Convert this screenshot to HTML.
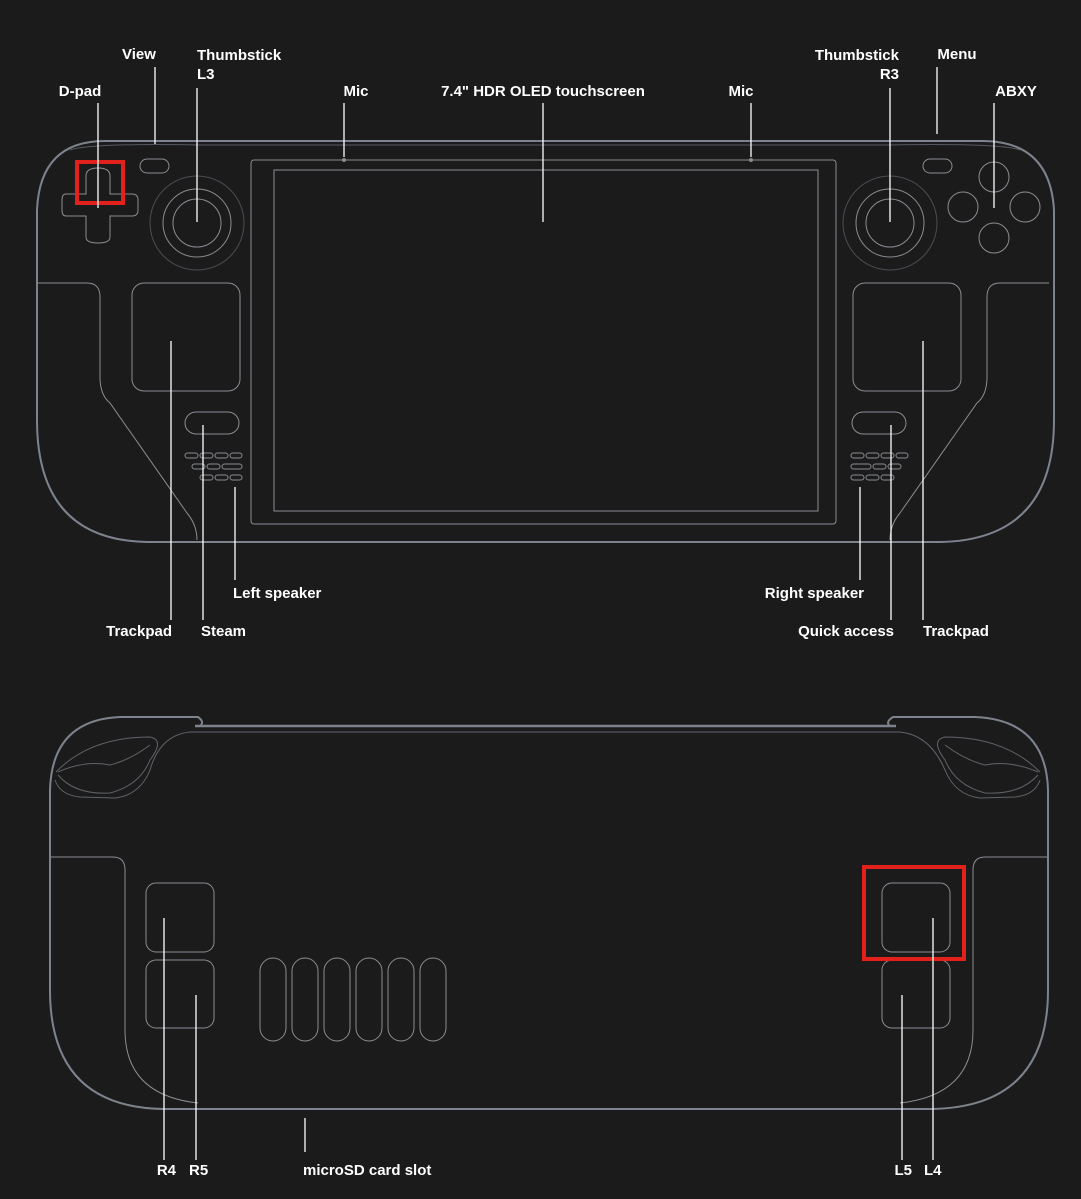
<!DOCTYPE html>
<html><head><meta charset="utf-8"><style>
html,body{margin:0;padding:0;background:#1b1b1c;}
svg{display:block}
text{font-family:"Liberation Sans",sans-serif;font-weight:bold;font-size:15px;fill:#fff}
</style></head><body>
<svg width="1081" height="1199" viewBox="0 0 1081 1199" xmlns="http://www.w3.org/2000/svg">
<rect width="1081" height="1199" fill="#1b1b1c"/>
<!-- TOP DEVICE -->
<g fill="none">
<path d="M105,141 L982,141 Q1050,141 1054,210 L1054,420 Q1054,540 940,542 L147,542 Q37,540 37,420 L37,210 Q40,141 105,141 Z" stroke="#7d838c" stroke-width="2"/>
<path d="M70,150 Q90,143 200,145 L890,145 Q1000,143 1020,150" stroke="#555a60" stroke-width="1"/>
<g stroke="#8a8d92" stroke-width="1">
<rect x="251" y="160" width="585" height="364" rx="3"/>
<rect x="274" y="170" width="544" height="341"/>
<path d="M38,283 L87,283 Q100,283 100,297 L100,377 Q100,395 110,403 L187,513 Q197,525 197,540"/>
<path d="M1049,283 L1000,283 Q987,283 987,297 L987,377 Q987,395 977,403 L900,513 Q890,525 890,540"/>
<path d="M86,176 Q86,168 98,168 Q110,168 110,176 L110,194 L132,194 Q138,194 138,200 L138,210 Q138,216 132,216 L110,216 L110,237 Q110,243 98,243 Q86,243 86,237 L86,216 L66,216 Q62,216 62,210 L62,200 Q62,194 66,194 L86,194 Z"/>
<rect x="140" y="159" width="29" height="14" rx="7"/>
<rect x="923" y="159" width="29" height="14" rx="7"/>
<circle cx="197" cy="223" r="34"/><circle cx="197" cy="223" r="24"/>
<circle cx="890" cy="223" r="34"/><circle cx="890" cy="223" r="24"/>
<rect x="132" y="283" width="108" height="108" rx="12"/>
<rect x="853" y="283" width="108" height="108" rx="12"/>
<rect x="185" y="412" width="54" height="22" rx="11"/>
<rect x="852" y="412" width="54" height="22" rx="11"/>
<circle cx="994" cy="177" r="15"/><circle cx="963" cy="207" r="15"/><circle cx="1025" cy="207" r="15"/><circle cx="994" cy="238" r="15"/>
</g>
<g stroke="#4a4d52" stroke-width="1"><circle cx="197" cy="223" r="47"/><circle cx="890" cy="223" r="47"/></g>
<g stroke="#8a8d92" stroke-width="1">
<rect x="185" y="453" width="13" height="5" rx="2.5"/><rect x="200" y="453" width="13" height="5" rx="2.5"/><rect x="215" y="453" width="13" height="5" rx="2.5"/><rect x="230" y="453" width="12" height="5" rx="2.5"/>
<rect x="192" y="464" width="13" height="5" rx="2.5"/><rect x="207" y="464" width="13" height="5" rx="2.5"/><rect x="222" y="464" width="20" height="5" rx="2.5"/>
<rect x="200" y="475" width="13" height="5" rx="2.5"/><rect x="215" y="475" width="13" height="5" rx="2.5"/><rect x="230" y="475" width="12" height="5" rx="2.5"/>
<rect x="851" y="453" width="13" height="5" rx="2.5"/><rect x="866" y="453" width="13" height="5" rx="2.5"/><rect x="881" y="453" width="13" height="5" rx="2.5"/><rect x="896" y="453" width="12" height="5" rx="2.5"/>
<rect x="851" y="464" width="20" height="5" rx="2.5"/><rect x="873" y="464" width="13" height="5" rx="2.5"/><rect x="888" y="464" width="13" height="5" rx="2.5"/>
<rect x="851" y="475" width="13" height="5" rx="2.5"/><rect x="866" y="475" width="13" height="5" rx="2.5"/><rect x="881" y="475" width="13" height="5" rx="2.5"/>
</g>
<circle cx="344" cy="160" r="2" fill="#8a8d92"/><circle cx="751" cy="160" r="2" fill="#8a8d92"/>
<rect x="77" y="162" width="46" height="41" stroke="#e3211c" stroke-width="4"/>
</g>
<!-- BOTTOM DEVICE -->
<g fill="none">
<path d="M120,717 L198,717 Q205,722 200,726 L890,726 Q885,722 893,717 L975,717 Q1046,720 1048,790 L1048,990 Q1048,1108 930,1109 L165,1109 Q50,1108 50,990 L50,790 Q52,720 120,717 Z" stroke="#7d838c" stroke-width="2"/>
<path d="M195,726 L896,726" stroke="#7d838c" stroke-width="2.5"/>
<g stroke="#5f6368" stroke-width="1">
<path d="M190,732 L900,732"/>
<path d="M56,772 Q90,737 150,737 Q165,740 150,760 Q140,785 110,793 Q75,795 58,775"/>
<path d="M58,772 Q85,760 110,765 Q130,760 150,745"/>
<path d="M190,732 Q160,735 150,770 Q140,795 115,798 L80,797 Q60,795 55,780"/>
<path d="M1040,772 Q1005,737 945,737 Q930,740 945,760 Q955,785 985,793 Q1020,795 1038,775"/>
<path d="M1038,772 Q1010,760 985,765 Q965,760 945,745"/>
<path d="M900,732 Q930,735 945,770 Q955,795 980,798 L1015,797 Q1035,795 1040,780"/>
</g>
<g stroke="#8a8d92" stroke-width="1">
<path d="M51,857 L113,857 Q125,857 125,870 L125,1030 Q125,1095 198,1103"/>
<path d="M1047,857 L985,857 Q973,857 973,870 L973,1030 Q973,1095 900,1103"/>
<rect x="146" y="883" width="68" height="69" rx="10"/>
<rect x="146" y="960" width="68" height="68" rx="10"/>
<rect x="882" y="883" width="68" height="69" rx="10"/>
<rect x="882" y="960" width="68" height="68" rx="10"/>
<rect x="260" y="958" width="26" height="83" rx="13"/>
<rect x="292" y="958" width="26" height="83" rx="13"/>
<rect x="324" y="958" width="26" height="83" rx="13"/>
<rect x="356" y="958" width="26" height="83" rx="13"/>
<rect x="388" y="958" width="26" height="83" rx="13"/>
<rect x="420" y="958" width="26" height="83" rx="13"/>
</g>
<rect x="864" y="867" width="100" height="92" stroke="#e3211c" stroke-width="4"/>
</g>
<!-- LEADERS -->
<g stroke="#fff" stroke-width="1.3">
<line x1="98" y1="103" x2="98" y2="208"/>
<line x1="155" y1="67" x2="155" y2="144"/>
<line x1="197" y1="88" x2="197" y2="222"/>
<line x1="344" y1="103" x2="344" y2="157"/>
<line x1="543" y1="103" x2="543" y2="222"/>
<line x1="751" y1="103" x2="751" y2="157"/>
<line x1="890" y1="88" x2="890" y2="222"/>
<line x1="937" y1="67" x2="937" y2="134"/>
<line x1="994" y1="103" x2="994" y2="208"/>
<line x1="171" y1="341" x2="171" y2="620"/>
<line x1="203" y1="425" x2="203" y2="620"/>
<line x1="235" y1="487" x2="235" y2="580"/>
<line x1="860" y1="487" x2="860" y2="580"/>
<line x1="891" y1="425" x2="891" y2="620"/>
<line x1="923" y1="341" x2="923" y2="620"/>
<line x1="164" y1="918" x2="164" y2="1160"/>
<line x1="196" y1="995" x2="196" y2="1160"/>
<line x1="305" y1="1118" x2="305" y2="1152"/>
<line x1="902" y1="995" x2="902" y2="1160"/>
<line x1="933" y1="918" x2="933" y2="1160"/>
</g>
<!-- LABELS -->
<text x="80" y="96" text-anchor="middle">D-pad</text>
<text x="139" y="59" text-anchor="middle">View</text>
<text x="197" y="60">Thumbstick</text>
<text x="197" y="79">L3</text>
<text x="356" y="96" text-anchor="middle">Mic</text>
<text x="543" y="96" text-anchor="middle">7.4" HDR OLED touchscreen</text>
<text x="741" y="96" text-anchor="middle">Mic</text>
<text x="899" y="60" text-anchor="end">Thumbstick</text>
<text x="899" y="79" text-anchor="end">R3</text>
<text x="957" y="59" text-anchor="middle">Menu</text>
<text x="1016" y="96" text-anchor="middle">ABXY</text>
<text x="172" y="636" text-anchor="end">Trackpad</text>
<text x="201" y="636">Steam</text>
<text x="233" y="598">Left speaker</text>
<text x="864" y="598" text-anchor="end">Right speaker</text>
<text x="894" y="636" text-anchor="end">Quick access</text>
<text x="923" y="636">Trackpad</text>
<text x="176" y="1175" text-anchor="end">R4</text>
<text x="189" y="1175">R5</text>
<text x="303" y="1175">microSD card slot</text>
<text x="912" y="1175" text-anchor="end">L5</text>
<text x="924" y="1175">L4</text>
</svg>
</body></html>
